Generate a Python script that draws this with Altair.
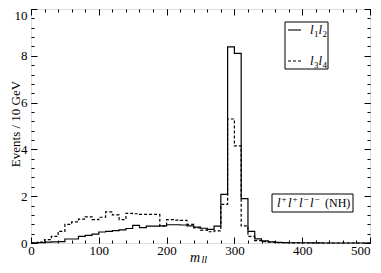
import altair as alt
import pandas as pd

SERIF = "Liberation Serif"

# histogram bins (left edges, GeV) and contents
bin_left = list(range(0, 500, 10))
l1l2 = [0.01, 0.02, 0.04, 0.05, 0.06, 0.17, 0.17, 0.28, 0.33, 0.38,
        0.47, 0.5, 0.53, 0.56, 0.62, 0.75, 0.66, 0.72, 0.72, 0.73,
        0.78, 0.78, 0.77, 0.73, 0.68, 0.63, 0.58, 0.72, 2.08, 8.38,
        8.1, 1.9, 0.5, 0.18, 0.09, 0.05, 0.03, 0.02, 0.01, 0.01,
        0.01, 0.005, 0.005, 0.0, 0.0, 0.0, 0.0, 0.0, 0.0, 0.0]
l3l4 = [0.0, 0.04, 0.14, 0.28, 0.5, 0.8, 0.9, 1.02, 1.12, 1.0,
        1.1, 1.33, 1.2, 1.0, 1.27, 1.25, 1.22, 1.22, 1.22, 0.72,
        1.0, 0.98, 0.97, 0.8, 0.65, 0.55, 0.48, 0.52, 1.65, 5.3,
        4.15, 0.73, 0.28, 0.1, 0.06, 0.04, 0.02, 0.01, 0.005, 0.005,
        0.0, 0.0, 0.0, 0.0, 0.0, 0.0, 0.0, 0.0, 0.0, 0.0]

x_major = [0, 100, 200, 300, 400, 500]
x_minor = list(range(0, 501, 20))
y_major = [0, 2, 4, 6, 8, 10]
y_minor = [round(i * 0.4, 1) for i in range(26)]

df = pd.DataFrame({
    "m": bin_left + [500],
    "s": l1l2 + [l1l2[-1]],
    "d": l3l4 + [l3l4[-1]],
})

xs = alt.Scale(domain=[0, 500], nice=False, zero=False)
ys = alt.Scale(domain=[0, 10], nice=False, zero=False)


def ax(orient, values, size, labels):
    kw = dict(orient=orient, values=values, tickSize=size, offset=-size,
              domain=False, grid=False, title="", tickColor="black",
              tickWidth=1, labels=labels)
    if labels:
        kw.update(labelFont=SERIF, labelFontSize=13, labelColor="black",
                  labelPadding=(1 if orient == "bottom" else 4),
                  labelOverlap=False, labelFlush=False)
        if orient == "bottom":
            kw["labelAlign"] = {"condition": {"test": "datum.value == 500", "value": "right"},
                                "value": "center"}
        else:
            kw["labelBaseline"] = {"condition": {"test": "datum.value == 10", "value": "top"},
                                   "value": "middle"}
    return alt.Axis(**kw)


base = alt.Chart(df)

solid = base.mark_line(interpolate="step-after", color="black", strokeWidth=1.2).encode(
    x=alt.X("m:Q", scale=xs, axis=ax("bottom", x_major, 6, True)),
    y=alt.Y("s:Q", scale=ys, axis=ax("left", y_major, 6, True)),
)
dashed = base.mark_line(interpolate="step-after", color="black", strokeWidth=1.2,
                        strokeDash=[3, 2]).encode(
    x=alt.X("m:Q", scale=xs, axis=ax("bottom", x_minor, 3, False)),
    y=alt.Y("d:Q", scale=ys, axis=ax("left", y_minor, 3, False)),
)
top_major = base.mark_line(opacity=0).encode(
    x=alt.X("m:Q", scale=xs, axis=ax("top", x_major, 6, False)),
    y=alt.Y("s:Q", scale=ys, axis=ax("right", y_major, 6, False)),
)
top_minor = base.mark_line(opacity=0).encode(
    x=alt.X("m:Q", scale=xs, axis=ax("top", x_minor, 3, False)),
    y=alt.Y("s:Q", scale=ys, axis=ax("right", y_minor, 3, False)),
)

one = pd.DataFrame({"k": [0]})


def txt(s, x, y, size=13, italic=False, angle=0, align="left", baseline="alphabetic"):
    kw = dict(text=s, font=SERIF, fontSize=size, align=align, baseline=baseline,
              color="black", fontStyle=("italic" if italic else "normal"))
    if angle:
        kw["angle"] = angle
    return alt.Chart(one).mark_text(**kw).encode(x=alt.value(x), y=alt.value(y))


def box(x1, x2, y1, y2):
    return alt.Chart(one).mark_rect(fill="white", stroke="black", strokeWidth=1).encode(
        x=alt.value(x1), x2=alt.value(x2), y=alt.value(y1), y2=alt.value(y2))


def rule(x1, x2, y, dash=None):
    kw = dict(color="black", strokeWidth=1.1)
    if dash:
        kw["strokeDash"] = dash
    return alt.Chart(one).mark_rule(**kw).encode(
        x=alt.value(x1), x2=alt.value(x2), y=alt.value(y))


ann = [
    txt("Events / 10 GeV", -15, 115, size=13, angle=270, align="center", baseline="middle"),
    txt("m", 159, 252.5, size=14, italic=True),
    txt("ll", 170.5, 253.5, size=10, italic=True),
    # legend
    box(254, 297, 13, 60),
    rule(257, 270, 21),
    rule(257, 270, 52, dash=[3, 2]),
    txt("l", 279, 25, italic=True), txt("1", 283, 28, size=9),
    txt("l", 287.5, 25, italic=True), txt("2", 291.5, 28, size=9),
    txt("l", 279, 56, italic=True), txt("3", 283, 59, size=9),
    txt("l", 287.5, 56, italic=True), txt("4", 291.5, 59, size=9),
    # process label
    box(241, 322, 185, 203),
    txt("l", 246, 198, italic=True), txt("+", 250.5, 193, size=9),
    txt("l", 257, 198, italic=True), txt("+", 261.5, 193, size=9),
    txt("l", 268, 198, italic=True), txt("\u2212", 272.5, 193, size=9),
    txt("l", 279, 198, italic=True), txt("\u2212", 283.5, 193, size=9),
    txt("(NH)", 294, 198, size=12),
]

chart = alt.layer(solid, dashed, top_major, top_minor, *ann).resolve_axis(
    x="independent", y="independent"
).properties(
    width=339, height=234,
    autosize=alt.AutoSizeParams(type="none"),
    padding={"left": 23, "top": 1, "right": 2, "bottom": 22},
).configure_view(stroke="black", strokeWidth=1).configure(background="white")

chart.save("out.html", embed_options={"renderer": "svg", "actions": False})
